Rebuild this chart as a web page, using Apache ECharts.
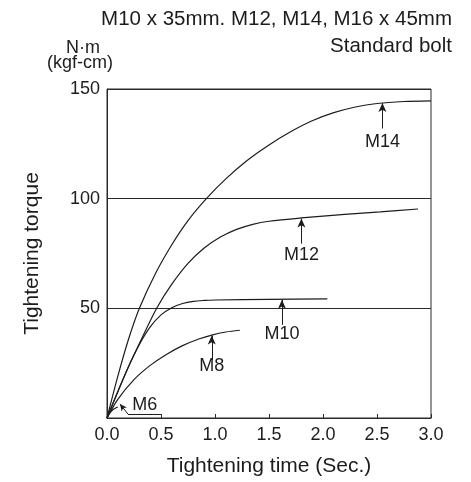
<!DOCTYPE html>
<html>
<head>
<meta charset="utf-8">
<script src="https://cdn.jsdelivr.net/npm/echarts@6/dist/echarts.min.js"></script>
<style>
html,body{margin:0;padding:0;background:#fff;}
#c{width:471px;height:482px;}
</style>
</head>
<body>
<div id="c"></div>
<script>
// ---- data (time in s, torque in N·m) ----
var xTicks = ['0.0','0.5','1.0','1.5','2.0','2.5','3.0'];
var yTicks = [50, 100, 150];

var m14 = [[0,0],[0.1,19],[0.2,36],[0.3,50],[0.45,66],[0.6,79],[0.75,90],[0.92,100],[1.1,109],[1.3,117.5],[1.5,124.5],[1.7,130.5],[1.9,135.5],[2.1,139.2],[2.3,141.8],[2.5,143.4],[2.75,144.3],[3.0,144.6]];
var m12 = [[0,0],[0.1,12],[0.2,23.5],[0.3,34],[0.46,50],[0.6,61],[0.75,70.5],[0.9,77.5],[1.05,82.5],[1.2,86],[1.35,88.3],[1.5,89.7],[1.8,91.2],[2.2,92.8],[2.53,94],[2.88,95.3]];
var m10 = [[0,0],[0.1,12],[0.2,23.5],[0.3,33.5],[0.4,41.5],[0.5,47],[0.6,50.3],[0.7,52.2],[0.8,53.2],[0.9,53.6],[1.0,53.8],[1.5,54.1],[2.04,54.3]];
var m8  = [[0,0],[0.1,8.5],[0.25,17.5],[0.4,24],[0.55,29],[0.7,33],[0.85,36],[0.97,37.8],[1.1,39.2],[1.23,40]];
var m6  = [[0,0],[0.03,2.5],[0.06,4],[0.1,5]];

// annotation arrows: [x, yFrom, yTo]
var arrows = {M14:[2.55,132,143.6], M12:[1.8,79.5,91], M10:[1.62,42.5,53.9], M8:[0.97,26.5,37.6]};
// label anchor points
var labels = {M14:[2.55,126], M12:[1.8,74.5], M10:[1.62,38.5], M8:[0.97,23.5], M6:[0.35,5.9]};
// M6 leader: end of horizontal line, bend point, arrow tip
var m6Leader = [[0.5,1.8],[0.194,1.8],[0.12,6.4]];

var INK = '#1c1c1c';
var FONT = '"Liberation Sans", Arial, Helvetica, sans-serif';

function arrowLine(a){
  return [{coord:[a[0],a[1]], symbol:'none'},{coord:[a[0],a[2]], symbol:'arrow', symbolSize:[6,9]}];
}
function labelPoint(name){
  return {coord:labels[name], value:name};
}
function mkSeries(name, data, extraLines){
  var lines = [];
  if (arrows[name]) lines.push(arrowLine(arrows[name]));
  if (extraLines) lines = lines.concat(extraLines);
  return {
    name:name, type:'line', data:data, smooth:0.3,
    showSymbol:false, symbol:'none', silent:true,
    lineStyle:{color:INK, width:1.2},
    markLine:{silent:true, animation:false, symbol:['none','none'],
      lineStyle:{color:INK, width:1, type:'solid'}, label:{show:false},
      data:lines},
    markPoint:{silent:true, animation:false, symbol:'circle', symbolSize:0,
      label:{show:true, position:'inside', formatter:'{c}', color:INK, fontSize:18, fontFamily:FONT},
      data:[labelPoint(name)]}
  };
}

var chart = echarts.init(document.getElementById('c'), null, {renderer:'canvas'});
var option = {
  animation:false,
  backgroundColor:'#fff',
  textStyle:{fontFamily:FONT},
  title:[
    {text:'M10 x 35mm. M12, M14, M16 x 45mm', right:14, top:4,
      textStyle:{fontSize:20.5, fontWeight:'normal', color:INK, fontFamily:FONT, lineHeight:20}},
    {text:'Standard bolt', right:14, top:31,
      textStyle:{fontSize:20.5, fontWeight:'normal', color:INK, fontFamily:FONT, lineHeight:20}}
  ],
  graphic:[
    {type:'text', left:66, top:39, style:{text:'N·m', fontSize:18, fontFamily:FONT, fill:INK}},
    {type:'text', left:47, top:54, style:{text:'(kgf-cm)', fontSize:18, fontFamily:FONT, fill:INK}}
  ],
  grid:{left:107, right:40, top:89, bottom:64, show:true, borderColor:'#2a2a2a', borderWidth:1},
  xAxis:{
    type:'value', min:0, max:3, interval:0.5,
    name:'Tightening time (Sec.)', nameLocation:'middle', nameGap:38,
    nameTextStyle:{fontSize:21, color:INK, fontFamily:FONT},
    axisLine:{show:true, lineStyle:{color:'#2a2a2a', width:1}},
    axisTick:{show:true, inside:true, length:4, lineStyle:{color:'#2a2a2a'}},
    splitLine:{show:false},
    axisLabel:{fontSize:18, color:INK, margin:8, fontFamily:FONT,
      formatter:function(v){ var i = Math.round(v/0.5); return xTicks[i] !== undefined ? xTicks[i] : ''; }}
  },
  yAxis:{
    type:'value', min:0, max:150, interval:50,
    name:'Tightening torque', nameLocation:'middle', nameGap:64, nameRotate:90,
    nameTextStyle:{fontSize:21, color:INK, fontFamily:FONT},
    axisLine:{show:true, lineStyle:{color:'#2a2a2a', width:1}},
    axisTick:{show:true, inside:true, length:3, lineStyle:{color:'#2a2a2a'}},
    splitLine:{show:true, lineStyle:{color:'#2a2a2a', width:1}},
    axisLabel:{fontSize:18, color:INK, margin:7, fontFamily:FONT,
      formatter:function(v){ return yTicks.indexOf(v) >= 0 ? String(v) : ''; }}
  },
  series:[
    mkSeries('M14', m14),
    mkSeries('M12', m12),
    mkSeries('M10', m10),
    mkSeries('M8', m8),
    mkSeries('M6', m6, [
      [{coord:m6Leader[0], symbol:'none'},{coord:m6Leader[1], symbol:'none'}],
      [{coord:m6Leader[1], symbol:'none'},{coord:m6Leader[2], symbol:'arrow', symbolSize:[5,7]}]
    ])
  ]
};
chart.setOption(option);
</script>
</body>
</html>
